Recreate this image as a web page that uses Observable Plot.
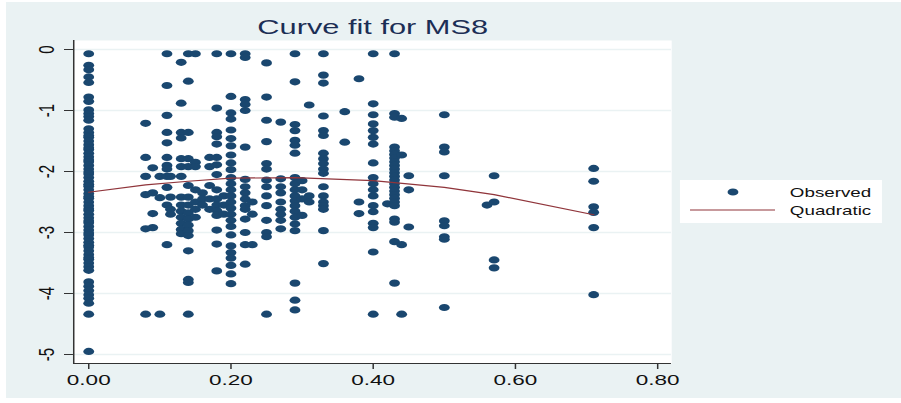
<!DOCTYPE html>
<html><head><meta charset="utf-8">
<script src="https://cdn.jsdelivr.net/npm/d3@7"></script>
<script src="https://cdn.jsdelivr.net/npm/@observablehq/plot@0.6"></script>
<style>html,body{margin:0;padding:0;background:#fff;} #chart svg{display:block}</style>
</head><body><div id="chart"></div>
<script>
const title = "Curve fit for MS8";
const xTicks = [0, 0.2, 0.4, 0.6, 0.8];
const yTicks = [0, -1, -2, -3, -4, -5];
const legendLabels = ["Observed", "Quadratic"];

// observed columns: x value and the y values seen at that x
const columnX = [0, 0.08, 0.09, 0.10, 0.11, 0.115, 0.13, 0.14, 0.15, 0.16, 0.17, 0.18, 0.19, 0.20, 0.22, 0.23, 0.25, 0.27, 0.29, 0.30, 0.31, 0.33, 0.36, 0.38, 0.40, 0.42, 0.43, 0.44, 0.45, 0.50, 0.56, 0.57, 0.71];
const columnY = [
  [-0.07,-0.26,-0.33,-0.45,-0.54,-0.78,-0.85,-0.99,-1.05,-1.10,-1.16,-1.30,-1.36,-1.41,-1.44,-1.50,-1.56,-1.61,-1.64,-1.70,-1.76,-1.81,-1.84,-1.90,-1.96,-2.01,-2.04,-2.10,-2.16,-2.21,-2.24,-2.30,-2.36,-2.41,-2.44,-2.50,-2.56,-2.61,-2.64,-2.70,-2.76,-2.81,-2.84,-2.90,-2.96,-3.01,-3.04,-3.10,-3.16,-3.21,-3.24,-3.30,-3.36,-3.41,-3.44,-3.50,-3.56,-3.62,-3.81,-3.88,-3.95,-4.02,-4.08,-4.16,-4.34,-4.95],
  [-1.21,-1.77,-2.08,-2.38,-2.94,-4.34],
  [-1.94,-2.35,-2.69,-2.92],
  [-2.08,-2.43,-4.34],
  [-0.07,-0.59,-1.08,-1.36,-1.53,-1.77,-1.90,-1.96,-2.08,-2.26,-2.55,-3.20],
  [-2.08,-2.42,-2.62,-2.70],
  [-0.21,-0.88,-1.36,-1.45,-1.79,-1.92,-2.08,-2.42,-2.55,-2.65,-2.75,-2.85,-2.95,-3.02],
  [-0.07,-0.52,-1.36,-1.79,-1.92,-2.23,-2.42,-2.55,-2.68,-2.78,-2.88,-2.97,-3.05,-3.30,-3.77,-3.82,-4.34],
  [-0.07,-1.85,-1.92,-2.30,-2.50,-2.62,-2.75],
  [-2.35,-2.45,-2.55],
  [-1.77,-1.92,-2.23,-2.45,-2.62],
  [-0.07,-0.96,-1.36,-1.43,-1.55,-1.77,-1.89,-2.05,-2.30,-2.45,-2.55,-2.64,-2.72,-2.96,-3.19,-3.63],
  [-2.40,-2.55,-2.70],
  [-0.07,-0.77,-1.04,-1.14,-1.32,-1.46,-1.58,-1.73,-1.86,-1.97,-2.10,-2.20,-2.30,-2.40,-2.50,-2.60,-2.70,-2.80,-2.90,-3.04,-3.22,-3.33,-3.42,-3.54,-3.68,-3.84],
  [-0.07,-0.13,-0.82,-0.90,-1.00,-1.60,-2.13,-2.25,-2.35,-2.45,-2.56,-2.62,-2.78,-3.00,-3.20,-3.52],
  [-2.50,-2.70,-3.20],
  [-0.22,-0.78,-1.16,-1.51,-1.87,-1.96,-2.14,-2.25,-2.40,-2.56,-2.80,-3.00,-3.07,-4.34],
  [-1.19,-2.12,-2.25,-2.35,-2.50,-2.62,-2.70,-2.80,-2.94],
  [-0.07,-0.53,-1.23,-1.33,-1.49,-1.57,-1.70,-2.10,-2.20,-2.30,-2.40,-2.48,-2.56,-2.65,-2.75,-2.86,-2.97,-3.83,-4.11,-4.27],
  [-2.15,-2.30,-2.45,-2.72],
  [-0.91,-2.40,-2.50],
  [-0.07,-0.42,-0.55,-1.09,-1.33,-1.41,-1.70,-1.79,-1.87,-1.96,-2.03,-2.25,-2.40,-2.50,-2.56,-2.62,-2.97,-3.51],
  [-1.02,-1.52],
  [-0.48,-2.50,-2.69],
  [-0.07,-0.89,-1.07,-1.22,-1.33,-1.44,-1.55,-1.86,-2.10,-2.20,-2.30,-2.40,-2.56,-2.66,-2.85,-2.92,-3.32,-4.34],
  [-2.53],
  [-0.07,-1.05,-1.11,-1.60,-1.66,-1.72,-1.78,-1.84,-1.90,-1.96,-2.02,-2.08,-2.14,-2.20,-2.26,-2.32,-2.38,-2.44,-2.50,-2.56,-2.78,-2.83,-3.15,-3.83],
  [-1.13,-1.73,-3.20,-4.34],
  [-2.07,-2.30,-2.91],
  [-1.07,-1.60,-1.68,-2.07,-2.81,-2.89,-3.07,-3.11,-4.23],
  [-2.55],
  [-2.07,-2.50,-3.45,-3.58],
  [-1.95,-2.16,-2.58,-2.67,-2.92,-4.02]
];

// quadratic fit
const fitX = [0, 0.08, 0.14, 0.20, 0.29, 0.40, 0.50, 0.57, 0.71];
const fitY = [-2.34, -2.22, -2.16, -2.11, -2.10, -2.15, -2.26, -2.38, -2.71];

const observed = columnX.flatMap((x, i) => columnY[i].map(y => ({x, y})));
const fit = fitX.map((x, i) => ({x, y: fitY[i]}));

const navy = "#1a476f", maroon = "#90353b", bg = "#eaf2f3";
const W = 600, H = 403, S = 901 / W;

const chart = Plot.plot({
  width: W, height: H,
  marginLeft: 48.6, marginRight: 153.2, marginTop: 40, marginBottom: 40,
  style: {fontFamily: "'Liberation Sans', Arial, sans-serif", background: "white", overflow: "visible"},
  x: {domain: [-0.0211, 0.8197], ticks: xTicks, tickFormat: d3.format(".2f")},
  y: {domain: [-5.148, 0.1475]},
  marks: [
    Plot.frame({fill: "white", stroke: null}),
    Plot.gridY(yTicks, {stroke: bg, strokeOpacity: 1, strokeWidth: 1.5}),
    Plot.dot(observed, {x: "x", y: "y", r: 3.6, fill: navy, stroke: null}),
    Plot.line(fit, {x: "x", y: "y", stroke: maroon, strokeWidth: 1.2}),
    Plot.ruleX([-0.0211], {stroke: "#333", strokeWidth: 1}),
    Plot.ruleY([-5.148], {stroke: "#333", strokeWidth: 1.2}),
    Plot.axisX({ticks: xTicks, tickFormat: d3.format(".2f"), tickSize: 6, tickPadding: 5, fontSize: 15, label: null, stroke: "#333", fill: "#111"}),
    Plot.axisY({ticks: yTicks, tickSize: 6, tickFormat: () => "", label: null, stroke: "#333"}),
    Plot.text(yTicks, {frameAnchor: "left", y: d => d, text: d => String(d), rotate: -90, textAnchor: "middle", lineAnchor: "bottom", dx: -13.3, fontSize: 15, fill: "#111"}),
    Plot.text([title], {frameAnchor: "top", dy: -7, lineAnchor: "bottom", fontSize: 20.5, fill: "#1c2e55"})
  ]
});

const svg = d3.select(chart);
svg.insert("rect", ":first-child").attr("x", 4).attr("y", 2).attr("width", W - 4).attr("height", H - 7).attr("fill", bg);

const lg = svg.append("g").attr("font-family", "'Liberation Sans', Arial, sans-serif").attr("text-anchor", "start");
lg.append("rect").attr("x", 452.8).attr("y", 180).attr("width", 134.5).attr("height", 43).attr("fill", "white");
lg.append("circle").attr("cx", 488.1).attr("cy", 192).attr("r", 3.6).attr("fill", navy);
lg.append("line").attr("x1", 459.5).attr("x2", 516.1).attr("y1", 210).attr("y2", 210).attr("stroke", maroon).attr("stroke-width", 1.2);
lg.append("text").attr("x", 526).attr("y", 197).attr("font-size", 12.5).attr("fill", "#111").attr("text-anchor", "start").text(legendLabels[0]);
lg.append("text").attr("x", 526).attr("y", 215).attr("font-size", 12.5).attr("fill", "#111").attr("text-anchor", "start").text(legendLabels[1]);

chart.setAttribute("width", 901);
chart.setAttribute("height", H);
chart.setAttribute("preserveAspectRatio", "none");
chart.style.width = "901px";
chart.style.height = H + "px";
document.getElementById("chart").appendChild(chart);
</script>
</body></html>
